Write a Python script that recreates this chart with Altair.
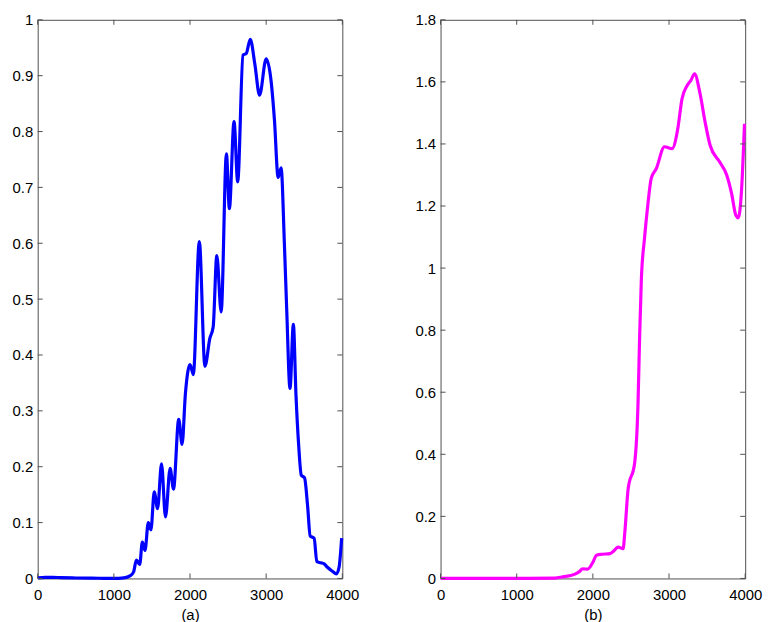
import altair as alt
import pandas as pd

# Panel (a)
xa = [0, 100, 200, 300, 500, 800, 1000, 1130, 1217, 1260, 1296, 1339, 1374, 1409, 1452, 1487,
      1530, 1574, 1626, 1678, 1739, 1783, 1852, 1896, 1939, 2000, 2043, 2122, 2196, 2261,
      2304, 2352, 2409, 2478, 2517, 2578, 2626, 2696, 2739, 2791, 2852, 2913, 3000, 3065,
      3109, 3157, 3196, 3239, 3270, 3313, 3357, 3391, 3426, 3461, 3504, 3544, 3578, 3630,
      3665, 3717, 3761, 3804, 3870, 3922, 3957, 3991]
ya = [0.001, 0.002, 0.002, 0.0015, 0.0008, 0.0003, 0.0, 0.001, 0.005, 0.012, 0.033, 0.025,
      0.065, 0.05, 0.10, 0.087, 0.155, 0.125, 0.205, 0.11, 0.197, 0.16, 0.285, 0.24, 0.33,
      0.383, 0.365, 0.603, 0.38, 0.43, 0.45, 0.578, 0.477, 0.76, 0.662, 0.818, 0.71, 0.937,
      0.94, 0.965, 0.92, 0.865, 0.93, 0.89, 0.82, 0.718, 0.735, 0.6, 0.48, 0.34, 0.455, 0.33,
      0.24, 0.185, 0.18, 0.13, 0.076, 0.072, 0.03, 0.028, 0.026, 0.02, 0.013, 0.008, 0.02,
      0.072]

# Panel (b)
xb = [0, 500, 1000, 1500, 1604, 1757, 1822, 1865, 1930, 1996, 2049, 2126, 2223, 2280, 2332,
      2397, 2420, 2463, 2549, 2593, 2614, 2636, 2679, 2720, 2767, 2832, 2940, 3040, 3115,
      3170, 3235, 3287, 3335, 3409, 3474, 3539, 3670, 3757, 3822, 3878, 3909, 3952, 3991]
yb = [0.0, 0.0, 0.0, 0.001, 0.005, 0.013, 0.022, 0.031, 0.03, 0.05, 0.075, 0.078, 0.08,
      0.09, 0.101, 0.096, 0.15, 0.288, 0.373, 0.565, 0.778, 0.959, 1.098, 1.2, 1.29, 1.32,
      1.391, 1.385, 1.449, 1.545, 1.587, 1.605, 1.626, 1.56, 1.47, 1.396, 1.34, 1.30, 1.24,
      1.17, 1.162, 1.25, 1.465]

x_ticks = [0, 1000, 2000, 3000, 4000]
y_ticks_a = [0, 0.1, 0.2, 0.3, 0.4, 0.5, 0.6, 0.7, 0.8, 0.9, 1.0]
y_ticks_b = [0, 0.2, 0.4, 0.6, 0.8, 1.0, 1.2, 1.4, 1.6, 1.8]

W, H = 307, 563
AX = "#505050"
FONT = "Liberation Sans"


def panel(xs, ys, color, yticks, ymax, caption):
    xs_scale = alt.Scale(domain=[0, 4000], nice=False, zero=False)
    ys_scale = alt.Scale(domain=[0, ymax], nice=False, zero=False)
    x_axis = alt.Axis(values=x_ticks, format="d", title=caption, ticks=False,
                      domain=False, grid=False, labelPadding=9, titlePadding=5,
                      labelFlush=False)
    y_axis = alt.Axis(values=yticks, format="~g", title=None, ticks=False,
                      domain=False, grid=False, labelPadding=5)
    df = pd.DataFrame({"x": xs, "y": ys})
    line = alt.Chart(df).mark_line(color=color, strokeWidth=3.2, interpolate="monotone").encode(
        x=alt.X("x:Q", scale=xs_scale, axis=x_axis),
        y=alt.Y("y:Q", scale=ys_scale, axis=y_axis),
    )
    ydf = pd.DataFrame({"y": yticks})
    xdf = pd.DataFrame({"x": x_ticks})
    yl = alt.Chart(ydf).mark_rule(color=AX, strokeWidth=1).encode(
        x=alt.value(0), x2=alt.value(5), y=alt.Y("y:Q", scale=ys_scale, axis=y_axis))
    yr = alt.Chart(ydf).mark_rule(color=AX, strokeWidth=1).encode(
        x=alt.value(W - 5), x2=alt.value(W), y=alt.Y("y:Q", scale=ys_scale, axis=y_axis))
    xt = alt.Chart(xdf).mark_rule(color=AX, strokeWidth=1).encode(
        y=alt.value(0), y2=alt.value(5), x=alt.X("x:Q", scale=xs_scale, axis=x_axis))
    xbt = alt.Chart(xdf).mark_rule(color=AX, strokeWidth=1).encode(
        y=alt.value(H - 5), y2=alt.value(H), x=alt.X("x:Q", scale=xs_scale, axis=x_axis))
    return alt.layer(line, yl, yr, xt, xbt).properties(width=W, height=H)


pa = panel(xa, ya, "#0000FF", y_ticks_a, 1.0, "(a)")
pb = panel(xb, yb, "#FF00FF", y_ticks_b, 1.8, "(b)")

chart = alt.hconcat(pa, pb, spacing=99, bounds="flush").properties(
    padding={"left": 11, "top": 9.5, "right": 5, "bottom": 5},
    background="white",
).configure_view(stroke=AX, strokeWidth=1).configure_axis(
    labelFont=FONT, labelFontSize=15, labelColor="black",
    titleFont=FONT, titleFontSize=15, titleFontWeight="normal", titleColor="black",
)

chart.save("out.html", embed_options={"renderer": "svg", "actions": False})
